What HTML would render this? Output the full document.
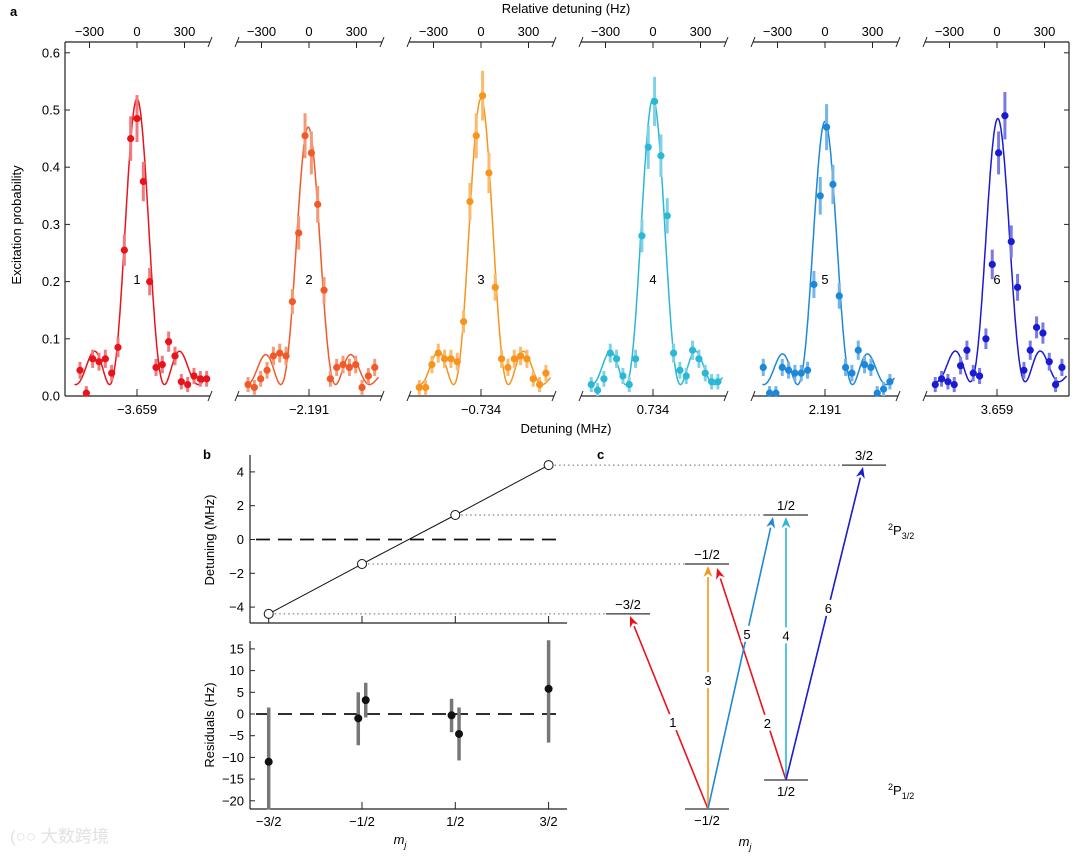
<!DOCTYPE html>
<html><head><meta charset="utf-8"><style>
body{margin:0;background:#fff}
svg{display:block;font-family:"Liberation Sans",Arial,sans-serif}
</style></head><body>
<svg id="fig" width="1080" height="859" viewBox="0 0 1080 859" xmlns="http://www.w3.org/2000/svg">
<g id="pa"></g>
<g id="pb"></g>
<g id="pc"></g>
<text x="10" y="842" font-size="17" fill="#e2e2e2" font-family="'Liberation Sans','Noto Sans CJK SC',sans-serif">(○○ 大数跨境</text>
</svg>
<script>
// ---- Panel a data ----
const relTicks = [-300, 0, 300];
const probTicks = [0, 0.1, 0.2, 0.3, 0.4, 0.5, 0.6];
const centerLabels = ["-3.659", "-2.191", "-0.734", "0.734", "2.191", "3.659"];
const lineLabels = ["1", "2", "3", "4", "5", "6"];
const colors = ["#e8141c", "#f05a28", "#f7941d", "#2bb8d6", "#1e88d8", "#1a1ad2"];
const lightColors = ["#f07a7e", "#f59a78", "#fabb6e", "#7fd2e6", "#74b4e8", "#7a7ae4"];
const arrowColors = ["#e8141c", "#e8141c", "#f7941d", "#2bb8d6", "#1e88d8", "#1a1ad2"];
const startHz = [-360, -385, -390, -390, -390, -390];
const stepHz = 40;
const series1 = [0.045,0.005,0.065,0.06,0.065,0.04,0.085,0.255,0.45,0.485,0.375,0.2,0.05,0.055,0.095,0.07,0.025,0.02,0.035,0.03,0.03];
const series2 = [0.02,0.015,0.03,0.045,0.07,0.075,0.07,0.165,0.285,0.455,0.425,0.335,0.185,0.03,0.05,0.055,0.05,0.055,0.015,0.035,0.05];
const series3 = [0.015,0.015,0.055,0.075,0.065,0.065,0.06,0.13,0.34,0.455,0.525,0.39,0.19,0.065,0.05,0.065,0.07,0.065,0.03,0.02,0.04];
const series4 = [0.02,0.01,0.03,0.075,0.065,0.035,0.02,0.065,0.28,0.435,0.515,0.42,0.315,0.075,0.045,0.035,0.08,0.065,0.04,0.025,0.025];
const series5 = [0.05,0.005,0.005,0.05,0.045,0.04,0.04,0.045,0.195,0.35,0.47,0.37,0.175,0.05,0.04,0.08,0.055,0.05,0.005,0.012,0.025];
const series6 = [0.02,0.03,0.025,0.02,0.053,0.08,0.04,0.035,0.1,0.23,0.425,0.49,0.27,0.19,0.045,0.08,0.12,0.11,0.06,0.02,0.05];
const allSeries = [series1, series2, series3, series4, series5, series6];
const fitAmp = [0.5, 0.45, 0.5, 0.5, 0.46, 0.46];
const fitBase = [0.02, 0.02, 0.02, 0.02, 0.02, 0.025];
const fitCenter = [0, -5, 0, 0, 0, 5];
// ---- Panel b data ----
const mjLabels = ["\u22123/2", "\u22121/2", "1/2", "3/2"];
const mjVals = [-1.5, -0.5, 0.5, 1.5];
const detuning = [-4.4, -1.45, 1.45, 4.4];
const detTicks = [-4, -2, 0, 2, 4];
const resTicks = [-20, -15, -10, -5, 0, 5, 10, 15];
const resMj = [-1.5, -0.54, -0.46, 0.46, 0.54, 1.5];
const resVal = [-11, -1, 3.2, -0.3, -4.6, 5.8];
const resHi = [1.5, 5, 7.2, 3.5, 1.5, 17];
const resLo = [-22, -7.2, -0.8, -4.2, -10.7, -6.6];

const NS = "http://www.w3.org/2000/svg";
function mk(parent, tag, attrs, text){
  const e = document.createElementNS(NS, tag);
  for (const k in attrs) e.setAttribute(k, attrs[k]);
  if (text !== undefined) e.textContent = text;
  parent.appendChild(e);
  return e;
}
const pa = document.getElementById('pa'), pb = document.getElementById('pb'), pc = document.getElementById('pc');
const txtMinus = s => s.replace(/-/g, "\u2212");

// ---- Panel a ----
const Y0 = 396, YPX = 572;
const yA = v => Y0 - v * YPX;
const HZPX = 47.5 / 300;
const cxs = [137, 309, 481, 653, 825, 997];
let t;
t = mk(pa,'text',{x:10,y:16,'font-size':13,'font-weight':'bold'},'a');
 
t = mk(pa,'text',{x:566,y:13,'font-size':13,'text-anchor':'middle'},'Relative detuning (Hz)');
 
t = mk(pa,'text',{x:566,y:433,'font-size':13,'text-anchor':'middle'},'Detuning (MHz)');
 
t = mk(pa,'text',{x:0,y:0,'font-size':13,'text-anchor':'middle',transform:'translate(21,225) rotate(-90)'},'Excitation probability');
 
let l = mk(pa,'line',{x1:65,y1:42,x2:65,y2:396,stroke:'#222','stroke-width':1.2});
 
l = mk(pa,'line',{x1:1069,y1:42,x2:1069,y2:396,stroke:'#222','stroke-width':1.2});
 
probTicks.forEach(v=>{
  mk(pa,'line',{x1:65,y1:yA(v),x2:70,y2:yA(v),stroke:'#222'});
  mk(pa,'line',{x1:1064,y1:yA(v),x2:1069,y2:yA(v),stroke:'#222'});
  const tt = mk(pa,'text',{x:60,y:yA(v)+4.5,'font-size':13,'text-anchor':'end'},v.toFixed(1));
   
});
function sinc2(d, A, base){
  const W = 100;
  const r = Math.sqrt(1 + (d*d)/(W*W));
  return base + A * Math.pow(Math.sin(Math.PI/2*r), 2) / (r*r);
}
cxs.forEach((cx,k)=>{
  const g = mk(pa,'g',{});
   
  const xl = k===0 ? 65 : cx-72, xr = k===5 ? 1069 : cx+73;
  const px = r => cx + r*HZPX;
  [42,396].forEach(yy=>{
    mk(g,'line',{x1:xl,y1:yy,x2:xr,y2:yy,stroke:'#222','stroke-width':1.2});
    if(k>0) mk(g,'line',{x1:xl-2,y1:yy+5,x2:xl+2,y2:yy-5,stroke:'#222'});
    if(k<5) mk(g,'line',{x1:xr-2,y1:yy+5,x2:xr+2,y2:yy-5,stroke:'#222'});
  });
  relTicks.forEach(r=>{
    mk(g,'line',{x1:px(r),y1:42,x2:px(r),y2:48,stroke:'#222'});
    const tt = mk(g,'text',{x:px(r),y:36,'font-size':13,'text-anchor':'middle'},txtMinus(String(r)));
     
  });
  mk(g,'line',{x1:cx,y1:389,x2:cx,y2:396,stroke:'#222'});
  let tt = mk(g,'text',{x:cx,y:414,'font-size':13,'text-anchor':'middle'},txtMinus(centerLabels[k]));
   
  tt = mk(g,'text',{x:cx,y:284,'font-size':13,'text-anchor':'middle'},lineLabels[k]);
   
  let d = '';
  for(let r=-395;r<=440;r+=3){
    const v = sinc2(r - fitCenter[k], fitAmp[k], fitBase[k]);
    d += (d?'L':'M') + px(r).toFixed(1) + ',' + yA(v).toFixed(1);
  }
  const fit = mk(g,'path',{d:d,fill:'none',stroke:colors[k],'stroke-width':1.5});
   
  const s = allSeries[k];
  s.forEach((v,i)=>{
    const hz = startHz[k] + stepHz*i;
    const e = 0.012 + 0.06*v;
    const eb = mk(g,'line',{x1:px(hz),y1:yA(v+e),x2:px(hz),y2:yA(Math.max(0,v-e)),stroke:lightColors[k],'stroke-width':3});
     
    const c = mk(g,'circle',{cx:px(hz),cy:yA(v),r:3.6,fill:colors[k]});
     
  });
});

// ---- Panel b ----
const xB = m => 362 + (m + 0.5) * 93.3;
const yDet = v => 539.5 - v * 16.9;
const yRes = v => 714 - v * 4.34;
t = mk(pb,'text',{x:203,y:459,'font-size':13,'font-weight':'bold'},'b');
 
mk(pb,'line',{x1:250,y1:455,x2:250,y2:623,stroke:'#222','stroke-width':1.2});
mk(pb,'line',{x1:250,y1:623,x2:567,y2:623,stroke:'#222','stroke-width':1.2});
mk(pb,'line',{x1:250,y1:641,x2:250,y2:809,stroke:'#222','stroke-width':1.2});
mk(pb,'line',{x1:250,y1:809,x2:567,y2:809,stroke:'#222','stroke-width':1.2});
detTicks.forEach(v=>{
  mk(pb,'line',{x1:250,y1:yDet(v),x2:255,y2:yDet(v),stroke:'#222'});
  const tt = mk(pb,'text',{x:244,y:yDet(v)+4.5,'font-size':13,'text-anchor':'end'},txtMinus(String(v)));
   
});
resTicks.forEach(v=>{
  mk(pb,'line',{x1:250,y1:yRes(v),x2:255,y2:yRes(v),stroke:'#222'});
  const tt = mk(pb,'text',{x:244,y:yRes(v)+4.5,'font-size':13,'text-anchor':'end'},txtMinus(String(v)));
   
});
mjVals.forEach((m,i)=>{
  mk(pb,'line',{x1:xB(m),y1:616,x2:xB(m),y2:623,stroke:'#222'});
  mk(pb,'line',{x1:xB(m),y1:802,x2:xB(m),y2:809,stroke:'#222'});
  const tt = mk(pb,'text',{x:xB(m),y:826,'font-size':13,'text-anchor':'middle'},mjLabels[i]);
   
});
t = mk(pb,'text',{x:400,y:844,'font-size':13,'font-style':'italic','text-anchor':'middle'},'m');
 
mk(t,'tspan',{dy:4,'font-size':9},'j');
t = mk(pb,'text',{x:0,y:0,'font-size':13,'text-anchor':'middle',transform:'translate(214,540) rotate(-90)'},'Detuning (MHz)');
 
t = mk(pb,'text',{x:0,y:0,'font-size':13,'text-anchor':'middle',transform:'translate(214,725) rotate(-90)'},'Residuals (Hz)');
 
l = mk(pb,'line',{x1:256,y1:yDet(0),x2:562,y2:yDet(0),stroke:'#111','stroke-width':1.8,'stroke-dasharray':'14 8'});
 
l = mk(pb,'line',{x1:256,y1:yRes(0),x2:562,y2:yRes(0),stroke:'#111','stroke-width':1.8,'stroke-dasharray':'14 8'});
 
const fitLine = mk(pb,'polyline',{points:mjVals.map((m,i)=>xB(m)+','+yDet(detuning[i])).join(' '),fill:'none',stroke:'#111','stroke-width':1});
 
const levelX = [606, 685, 764, 842];
mjVals.forEach((m,i)=>{
  const dl = mk(pb,'line',{x1:xB(m)+6,y1:yDet(detuning[i]),x2:levelX[i],y2:yDet(detuning[i]),stroke:'#666','stroke-width':1,'stroke-dasharray':'1.5 3'});
   
  const c = mk(pb,'circle',{cx:xB(m),cy:yDet(detuning[i]),r:4.5,fill:'#fff',stroke:'#111','stroke-width':1});
   
});
resMj.forEach((m,i)=>{
  const eb = mk(pb,'line',{x1:xB(m),y1:yRes(resHi[i]),x2:xB(m),y2:yRes(resLo[i]),stroke:'#777','stroke-width':3.5});
   
  const c = mk(pb,'circle',{cx:xB(m),cy:yRes(resVal[i]),r:4,fill:'#111'});
   
});

// ---- Panel c ----
t = mk(pc,'text',{x:597,y:459,'font-size':13,'font-weight':'bold'},'c');
 
const upper = mjVals.map((m,i)=>({x:levelX[i],y:yDet(detuning[i]),lab:mjLabels[i]}));
upper.forEach(u=>{
  const ln = mk(pc,'line',{x1:u.x,y1:u.y,x2:u.x+44,y2:u.y,stroke:'#333','stroke-width':1.3});
   
  const tt = mk(pc,'text',{x:u.x+22,y:u.y-5,'font-size':13,'text-anchor':'middle'},u.lab);
   
});
const lower = [{x:685,y:809,lab:"\u22121/2"},{x:764,y:780,lab:"1/2"}];
lower.forEach(u=>{
  const ln = mk(pc,'line',{x1:u.x,y1:u.y,x2:u.x+44,y2:u.y,stroke:'#333','stroke-width':1.3});
   
  const tt = mk(pc,'text',{x:u.x+22,y:u.y+16,'font-size':13,'text-anchor':'middle'},u.lab);
   
});
t = mk(pc,'text',{x:888,y:535,'font-size':13},'');
 
mk(t,'tspan',{dy:-5,'font-size':9},'2'); mk(t,'tspan',{dy:5},'P'); mk(t,'tspan',{dy:4,'font-size':9},'3/2');
t = mk(pc,'text',{x:888,y:795,'font-size':13},'');
 
mk(t,'tspan',{dy:-5,'font-size':9},'2'); mk(t,'tspan',{dy:5},'P'); mk(t,'tspan',{dy:4,'font-size':9},'1/2');
t = mk(pc,'text',{x:745,y:846,'font-size':13,'font-style':'italic','text-anchor':'middle'},'m');
 
mk(t,'tspan',{dy:4,'font-size':9},'j');
const arrows = [
  [708,809,630,616,'1',0.45],[786,780,717,568,'2',0.27],[708,809,708,566,'3',0.53],
  [786,780,786,517,'4',0.55],[708,809,773,517,'5',0.6],[786,780,863,467,'6',0.55]];
arrows.forEach((a,k)=>{
  const [x1,y1,x2,y2,lab,f] = a;
  const ang = Math.atan2(y2-y1,x2-x1);
  const L = 11, W = 4.5;
  const bx = x2 - L*Math.cos(ang), by = y2 - L*Math.sin(ang);
  const ln = mk(pc,'line',{x1:x1,y1:y1,x2:bx,y2:by,stroke:arrowColors[k],'stroke-width':1.6});
   
  const nx = -Math.sin(ang)*W, ny = Math.cos(ang)*W;
  mk(pc,'polygon',{points:`${x2},${y2} ${bx+nx},${by+ny} ${bx+L*0.3*Math.cos(ang)},${by+L*0.3*Math.sin(ang)} ${bx-nx},${by-ny}`,fill:arrowColors[k]});
  const lx = x1+(x2-x1)*f, ly = y1+(y2-y1)*f;
  mk(pc,'rect',{x:lx-6,y:ly-8,width:12,height:16,fill:'#fff'});
  const tt = mk(pc,'text',{x:lx,y:ly+5,'font-size':13,'text-anchor':'middle'},lab);
   
});
</script>
</body></html>
